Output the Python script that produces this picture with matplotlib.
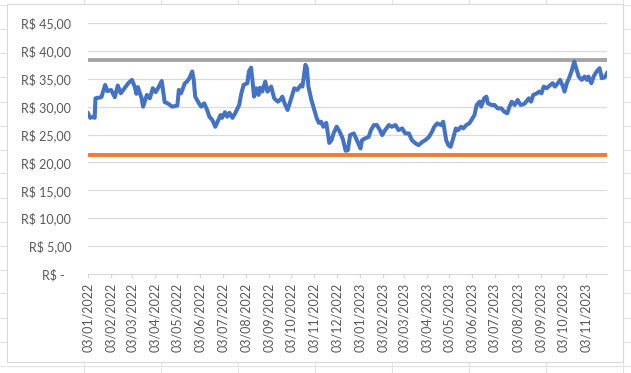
import matplotlib
matplotlib.use("Agg")
import matplotlib.pyplot as plt
import matplotlib.dates as mdates
from matplotlib.lines import Line2D
from matplotlib.patches import Rectangle
import pandas as pd

dates = [
    "2022-01-03", "2022-01-06", "2022-01-10", "2022-01-12", "2022-01-13", "2022-01-21",
    "2022-01-26", "2022-01-29", "2022-02-03", "2022-02-08", "2022-02-12", "2022-02-16",
    "2022-02-21", "2022-02-26", "2022-03-03", "2022-03-07", "2022-03-09", "2022-03-11",
    "2022-03-16", "2022-03-18", "2022-03-23", "2022-03-27", "2022-03-31", "2022-04-04",
    "2022-04-07", "2022-04-12", "2022-04-16", "2022-04-20", "2022-04-26", "2022-05-03",
    "2022-05-05", "2022-05-08", "2022-05-13", "2022-05-16", "2022-05-19", "2022-05-23",
    "2022-05-25", "2022-05-27", "2022-06-01", "2022-06-04", "2022-06-08", "2022-06-12",
    "2022-06-15", "2022-06-19", "2022-06-23", "2022-06-27", "2022-06-30", "2022-07-02",
    "2022-07-06", "2022-07-09", "2022-07-12", "2022-07-16", "2022-07-20", "2022-07-25",
    "2022-07-28", "2022-07-31", "2022-08-05", "2022-08-07", "2022-08-10", "2022-08-12",
    "2022-08-14", "2022-08-17", "2022-08-20", "2022-08-22", "2022-08-25", "2022-08-29",
    "2022-09-01", "2022-09-06", "2022-09-10", "2022-09-15", "2022-09-18", "2022-09-21",
    "2022-09-24", "2022-09-28", "2022-10-03", "2022-10-07", "2022-10-11", "2022-10-16",
    "2022-10-18", "2022-10-22", "2022-10-24", "2022-10-26", "2022-10-30", "2022-11-02",
    "2022-11-06", "2022-11-09", "2022-11-12", "2022-11-15", "2022-11-19", "2022-11-23",
    "2022-11-26", "2022-11-29", "2022-12-03", "2022-12-07", "2022-12-11", "2022-12-15",
    "2022-12-18", "2022-12-21", "2022-12-26", "2022-12-30", "2023-01-04", "2023-01-06",
    "2023-01-10", "2023-01-15", "2023-01-18", "2023-01-22", "2023-01-26", "2023-01-30",
    "2023-02-02", "2023-02-06", "2023-02-11", "2023-02-15", "2023-02-20", "2023-02-24",
    "2023-03-01", "2023-03-05", "2023-03-10", "2023-03-14", "2023-03-19", "2023-03-23",
    "2023-03-28", "2023-04-01", "2023-04-06", "2023-04-10", "2023-04-13", "2023-04-17",
    "2023-04-22", "2023-04-25", "2023-04-29", "2023-05-02", "2023-05-05", "2023-05-09",
    "2023-05-12", "2023-05-15", "2023-05-19", "2023-05-22", "2023-05-26", "2023-05-30",
    "2023-06-02", "2023-06-06", "2023-06-09", "2023-06-13", "2023-06-15", "2023-06-19",
    "2023-06-22", "2023-06-24", "2023-06-29", "2023-07-03", "2023-07-07", "2023-07-12",
    "2023-07-16", "2023-07-20", "2023-07-23", "2023-07-26", "2023-07-30", "2023-08-03",
    "2023-08-07", "2023-08-12", "2023-08-18", "2023-08-21", "2023-08-24", "2023-08-29",
    "2023-09-01", "2023-09-04", "2023-09-07", "2023-09-11", "2023-09-16", "2023-09-19",
    "2023-09-22", "2023-09-26", "2023-09-29", "2023-10-02", "2023-10-05", "2023-10-08",
    "2023-10-11", "2023-10-15", "2023-10-18", "2023-10-20", "2023-10-24", "2023-10-28",
    "2023-11-01", "2023-11-04", "2023-11-06", "2023-11-10", "2023-11-13", "2023-11-17",
    "2023-11-21", "2023-11-24", "2023-11-28", "2023-12-01",
]
prices = [
    28.8, 28.0, 28.2, 28.0, 31.5, 31.7,
    33.9, 32.8, 33.0, 31.7, 33.8, 32.4,
    33.3, 34.2, 34.8, 33.5, 32.3, 33.5,
    31.5, 30.0, 32.1, 31.5, 33.3, 32.6,
    33.3, 34.6, 30.8, 30.6, 30.0, 30.2,
    33.0, 32.4, 34.2, 34.5, 35.1, 36.3,
    34.8, 31.8, 30.6, 30.0, 30.6, 29.4,
    28.2, 27.6, 26.4, 27.6, 28.5, 28.0,
    29.0, 28.2, 28.9, 28.0, 28.9, 30.3,
    32.4, 33.9, 34.2, 36.3, 37.0, 34.5,
    31.8, 33.3, 32.1, 33.4, 32.7, 34.5,
    32.7, 33.6, 31.5, 30.9, 31.2, 31.8,
    30.6, 29.4, 31.5, 33.3, 33.0, 33.9,
    33.6, 37.5, 36.9, 33.6, 31.2, 29.8,
    28.0, 27.1, 27.3, 26.4, 27.1, 23.5,
    24.0, 25.3, 26.4, 25.5, 24.3, 22.1,
    22.2, 24.9, 25.2, 24.0, 22.5, 24.0,
    24.3, 24.6, 25.8, 26.7, 26.7, 25.8,
    24.9, 25.8, 26.7, 26.4, 26.7, 25.8,
    26.1, 25.2, 25.2, 24.0, 23.4, 23.1,
    23.7, 24.0, 24.6, 25.5, 26.4, 27.0,
    26.7, 27.3, 24.0, 23.1, 22.8, 24.6,
    26.1, 25.8, 26.4, 26.1, 26.7, 27.0,
    27.6, 28.5, 30.3, 30.9, 30.0, 31.5,
    31.8, 30.6, 30.3, 30.3, 29.7, 29.7,
    29.1, 28.8, 30.0, 30.9, 30.3, 31.2,
    30.3, 30.5, 31.5, 30.9, 32.1, 32.4,
    32.7, 32.4, 33.6, 33.3, 33.9, 34.2,
    33.6, 34.2, 34.8, 33.9, 32.7, 34.2,
    35.1, 36.6, 38.1, 37.2, 35.4, 34.8,
    35.4, 34.8, 35.4, 34.2, 35.4, 36.3,
    36.9, 35.1, 35.3, 36.0,
]
max_level = 38.4
min_level = 21.4

x = pd.to_datetime(dates)

W, H = 631, 373
fig = plt.figure(figsize=(W / 100, H / 100), dpi=100)
fig.patch.set_facecolor("white")
plt.rcParams["font.family"] = ["Lato", "DejaVu Sans"]

# spreadsheet cells behind the chart
cell = "#E3E3E3"
for cx in [84, 161, 238, 315, 392, 469, 546, 623]:
    fig.add_artist(Line2D([cx / W, cx / W], [0, 1], color=cell, lw=0.8, zorder=0))
for ry in [5, 29, 53, 77, 102, 126, 150, 173, 198, 222, 246, 270, 293, 318, 342, 366]:
    fig.add_artist(Line2D([0, 1], [1 - ry / H, 1 - ry / H], color=cell, lw=0.8, zorder=0))
fig.add_artist(Rectangle((7 / W, 1 - 362 / H), (623 - 7) / W, (362 - 4) / H,
                         facecolor="white", edgecolor="#D9D9D9", lw=0.8, zorder=1))

ax = fig.add_axes([88 / W, 1 - 274 / H, (607 - 88) / W, (274 - 23) / H])
ax.set_zorder(2)
ax.patch.set_visible(False)

ax.plot(x, prices, color="#4472C4", lw=2.9, solid_joinstyle="round", zorder=4)
ax.plot([x[0], x[-1]], [max_level, max_level], color="#A5A5A5", lw=2.8, zorder=3)
ax.plot([x[0], x[-1]], [min_level, min_level], color="#ED7D31", lw=2.8, zorder=3)

ax.set_xlim(x[0], x[-1])
ax.set_ylim(0, 45)
ax.set_yticks(range(0, 46, 5))


def brl(v, pos):
    if v == 0:
        return "R$ -  "
    return "R$ " + f"{v:.2f}".replace(".", ",")


ax.yaxis.set_major_formatter(plt.FuncFormatter(brl))
ax.xaxis.set_major_locator(mdates.MonthLocator(bymonthday=3))
ax.xaxis.set_major_formatter(mdates.DateFormatter("%d/%m/%Y"))

ax.grid(axis="y", color="#D9D9D9", lw=0.8)
ax.set_axisbelow(True)
for s in ["top", "right", "left"]:
    ax.spines[s].set_visible(False)
ax.spines["bottom"].set_color("#D9D9D9")
ax.spines["bottom"].set_linewidth(0.8)

ax.tick_params(axis="y", length=0, pad=12, labelsize=9, labelcolor="#595959")
ax.tick_params(axis="x", length=3, width=0.8, color="#D9D9D9", pad=3.5,
               labelsize=9, labelcolor="#595959", labelrotation=90)

fig.savefig("out.png", dpi=100)
